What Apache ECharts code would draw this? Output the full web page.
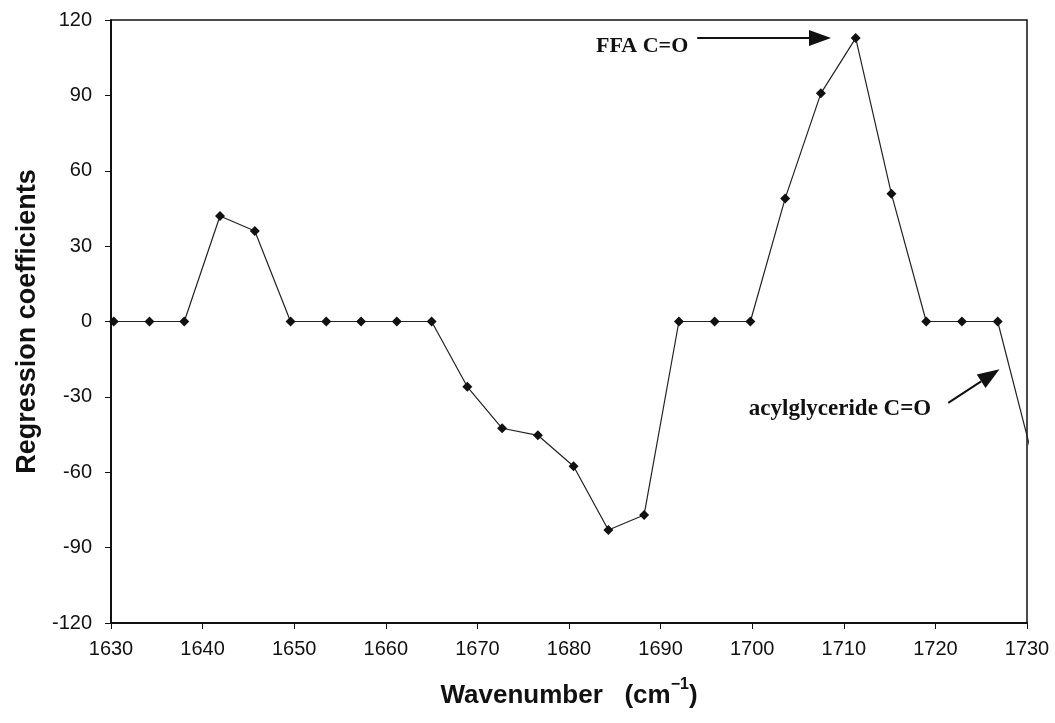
<!DOCTYPE html>
<html>
<head>
<meta charset="utf-8">
<script src="https://cdn.jsdelivr.net/npm/echarts@6/dist/echarts.min.js"></script>
<style>
html,body{margin:0;padding:0;background:#fff;}
#chart{width:1055px;height:723px;}
</style>
</head>
<body>
<div id="chart"></div>
<script>
// Wavenumbers (cm^-1) of the sampled points
const wavenumbers = [1630.3, 1634.2, 1638.0, 1641.9, 1645.7, 1649.6, 1653.5, 1657.3, 1661.2, 1665.0,
  1668.9, 1672.7, 1676.6, 1680.5, 1684.3, 1688.2, 1692.0, 1695.9, 1699.8, 1703.6,
  1707.5, 1711.3, 1715.2, 1719.0, 1722.9, 1726.8, 1730.6];
// Regression coefficients
const coefficients = [0, 0, 0, 42, 36, 0, 0, 0, 0, 0,
  -26, -42.5, -45.3, -57.6, -83, -77, 0, 0, 0, 49,
  90.8, 112.8, 50.8, 0, 0, 0, -54];
const xTicks = {min: 1630, max: 1730, interval: 10};
const yTicks = {min: -120, max: 120, interval: 30};
// Annotations: text, arrow start and arrow tip in data coordinates
const annFFA = {text: 'FFA C=O', start: [1694.0, 112.8], tip: [1708.6, 112.8]};
const annAcyl = {text: 'acylglyceride C=O', start: [1721.4, -32.4], tip: [1727.0, -19.0]};

const chart = echarts.init(document.getElementById('chart'));
const seriesData = wavenumbers.map((x, i) => [x, coefficients[i]]);
const sans = 'Liberation Sans, Arial, sans-serif';

const option = {
  animation: false,
  backgroundColor: '#fff',
  grid: {left: 111, right: 28, top: 20, bottom: 100, show: true, borderColor: '#111', borderWidth: 1.5},
  xAxis: {
    type: 'value', min: xTicks.min, max: xTicks.max, interval: xTicks.interval,
    axisLine: {onZero: false, lineStyle: {color: '#111', width: 2}},
    axisTick: {show: true, inside: false, length: 6, lineStyle: {color: '#111', width: 1}},
    splitLine: {show: false},
    axisLabel: {color: '#111', fontSize: 20, fontFamily: sans, margin: 16, formatter: v => String(v)},
    name: '{b|Wavenumber   (cm}{s|−1}{b|)}',
    nameLocation: 'middle', nameGap: 54,
    nameTextStyle: {
      rich: {
        b: {fontSize: 26, fontWeight: 'bold', fontFamily: sans, color: '#111', lineHeight: 32, verticalAlign: 'bottom'},
        s: {fontSize: 16, fontWeight: 'bold', fontFamily: sans, color: '#111', lineHeight: 32, verticalAlign: 'top'}
      }
    }
  },
  yAxis: {
    type: 'value', min: yTicks.min, max: yTicks.max, interval: yTicks.interval,
    axisLine: {show: true, onZero: false, lineStyle: {color: '#111', width: 2}},
    axisTick: {show: true, inside: false, length: 6, lineStyle: {color: '#111', width: 1}},
    splitLine: {show: false},
    axisLabel: {color: '#111', fontSize: 20, fontFamily: sans, margin: 19, formatter: v => String(v)},
    name: 'Regression coefficients',
    nameLocation: 'middle', nameGap: 64,
    nameTextStyle: {fontSize: 27, fontWeight: 'bold', fontFamily: sans, color: '#111'}
  },
  series: [{
    type: 'line',
    data: seriesData,
    clip: true,
    symbol: 'diamond', symbolSize: 10,
    itemStyle: {color: '#111'},
    lineStyle: {color: '#222', width: 1.2}
  }]
};
chart.setOption(option);

function arrowGraphics(ann, textOffset, fontSize) {
  const p0 = chart.convertToPixel({gridIndex: 0}, ann.start);
  const p1 = chart.convertToPixel({gridIndex: 0}, ann.tip);
  const dx = p1[0] - p0[0], dy = p1[1] - p0[1];
  const len = Math.sqrt(dx * dx + dy * dy);
  const ux = dx / len, uy = dy / len;
  const headL = 22, headW = 8;
  const bx = p1[0] - ux * headL, by = p1[1] - uy * headL;
  const nx = -uy, ny = ux;
  return [
    {type: 'line', shape: {x1: p0[0], y1: p0[1], x2: bx, y2: by}, style: {stroke: '#111', lineWidth: 2}},
    {type: 'polygon', shape: {points: [[p1[0], p1[1]], [bx + nx * headW, by + ny * headW], [bx - nx * headW, by - ny * headW]]}, style: {fill: '#111'}},
    {
      type: 'text', x: p0[0] + textOffset[0], y: p0[1] + textOffset[1],
      style: {text: ann.text, font: 'bold ' + fontSize + 'px "Liberation Serif", "Times New Roman", serif', fill: '#111', textAlign: 'right', textVerticalAlign: 'middle'}
    }
  ];
}
chart.setOption({
  graphic: arrowGraphics(annFFA, [-9, 8], 22).concat(arrowGraphics(annAcyl, [-17, 6], 23))
});
</script>
</body>
</html>
